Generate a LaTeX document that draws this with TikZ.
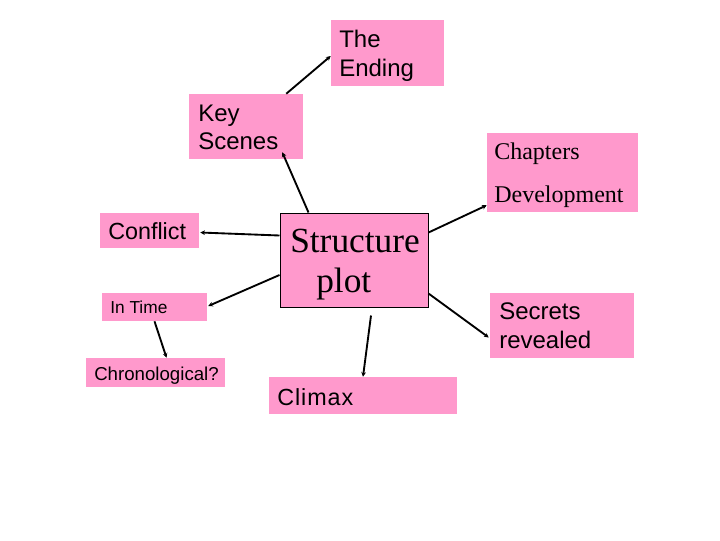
\documentclass[tikz,border=0pt]{standalone}
\usepackage{fontspec}
\setmainfont{Liberation Serif}
\setsansfont{Liberation Sans}
\usetikzlibrary{arrows.meta,fit,calc}
\definecolor{pinkbox}{RGB}{255,153,204}
\tikzset{
  box/.style={fill=pinkbox, inner sep=0pt, draw=none},
  mainbox/.style={fill=pinkbox, inner sep=0pt, draw=black, line width=0.75pt},
  txt/.style={anchor=base west, inner sep=0pt, font=\sffamily\fontsize{#1}{#1}\selectfont},
  stxt/.style={anchor=base west, inner sep=0pt, font=\rmfamily\fontsize{#1}{#1}\selectfont},
  arr/.style={line width=1.4pt, -{Stealth[length=3.5pt,width=3.5pt]}}
}
\begin{document}
\begin{tikzpicture}[x=0.75pt,y=-0.75pt]
\useasboundingbox (0,0) rectangle (720,540);
% boxes
\node[box, fit={(331,20) (444,86)}] (end) {};
\node[box, fit={(189,94) (303,159)}] (ks) {};
\node[box, fit={(487,133) (638,212)}] (ch) {};
\node[box, fit={(100,213) (199,248)}] (conf) {};
\node[mainbox, fit={(280,213) (428,307)}] (sp) {};
\node[box, fit={(102,293) (207,321)}] (it) {};
\node[box, fit={(86,358) (225,387)}] (chr) {};
\node[box, fit={(269,377) (457,414)}] (cl) {};
\node[box, fit={(490,293) (634,358)}] (sec) {};
% texts
\node[txt=18pt] (endA) at (339,47) {The};
\node[txt=18pt] (endB) at (339,76) {Ending};
\node[txt=18pt] (ksA) at (198,121) {Key};
\node[txt=18pt] (ksB) at (198,149) {Scenes};
\node[stxt=18pt] (chA) at (494,159) {Chapters};
\node[stxt=18pt] (chB) at (494,202) {Development};
\node[txt=17.5pt] (confT) at (108,239) {Conflict};
\node[stxt=26.5pt] (spA) at (290,252) {Structure};
\node[stxt=26.5pt] (spB) at (316,292) {plot};
\node[txt=13pt] (itT) at (110,313) {In Time};
\node[txt=14pt] (chrT) at (94,380) {Chronological?};
\node[txt=17.5pt] (clT) at (277,405) {\addfontfeature{LetterSpace=4}Climax};
\node[txt=18pt] (secA) at (499,319) {Secrets};
\node[txt=18pt] (secB) at (499,348) {revealed};
% connectors
\draw[arr] ($(ks.north east)+(-17,0)$) -- ($(end.west)+(0,3)$);
\draw[arr] ($(sp.north west)+(29,0)$) -- ($(ks.south east)+(-21,-7)$);
\draw[arr] ($(sp.north west)+(0,23)$) -- ($(conf.east)+(1,2)$);
\draw[arr] ($(sp.west)+(0,15)$) -- ($(it.east)+(1,-1)$);
\draw[arr] (it.south) -- ($(chr.north)+(11,0)$);
\draw[arr] ($(sp.south)+(17,8)$) -- (cl.north);
\draw[arr] ($(sp.north east)+(0,20)$) -- ($(ch.south west)+(0,-7)$);
\draw[arr] ($(sp.south east)+(0,-14)$) -- ($(sec.west)+(-1,12)$);
\end{tikzpicture}
\end{document}
